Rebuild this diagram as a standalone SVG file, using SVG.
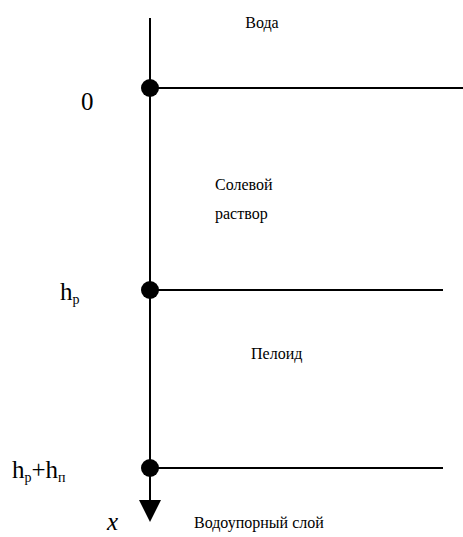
<svg xmlns="http://www.w3.org/2000/svg" width="463" height="537" viewBox="0 0 463 537">
<style>
.ln{stroke:#000;stroke-width:2;fill:none}
.dot{fill:#000}
.lbl{font-size:16px}
.big{font-size:25px}
</style>
<rect width="463" height="537" fill="#fff"/>
<g id="connectors">
<line class="ln" x1="150" y1="18" x2="150" y2="502"/>
<polygon points="139,500 161,500 150,522" fill="#000"/>
<line class="ln" x1="150" y1="88" x2="463" y2="88"/>
<line class="ln" x1="150" y1="290" x2="443" y2="290"/>
<line class="ln" x1="150" y1="468" x2="443" y2="468"/>
</g>
<g font-family="Liberation Serif, serif" fill="#000">
<g id="p0"><circle class="dot" cx="150" cy="88" r="9"/><text class="big" x="81" y="110">0</text></g>
<g id="p1"><circle class="dot" cx="150" cy="290" r="9"/><text class="big" x="60" y="300">h<tspan font-size="14" dy="4">р</tspan></text></g>
<g id="p2"><circle class="dot" cx="150" cy="468" r="9"/><text class="big" x="12" y="478">h<tspan font-size="14" dy="4">р</tspan><tspan dy="-4">+h</tspan><tspan font-size="14" dy="4">п</tspan></text></g>
<g id="voda"><text class="lbl" x="262" y="28" text-anchor="middle">Вода</text></g>
<g id="rastvor"><text class="lbl" x="215" y="190">Солевой</text><text class="lbl" x="215" y="219">раствор</text></g>
<g id="peloid"><text class="lbl" x="251" y="359">Пелоид</text></g>
<g id="sloy"><text class="lbl" x="194" y="528">Водоупорный слой</text></g>
<g id="xlabel"><text class="big" x="107" y="530" font-style="italic">x</text></g>
</g>
</svg>
